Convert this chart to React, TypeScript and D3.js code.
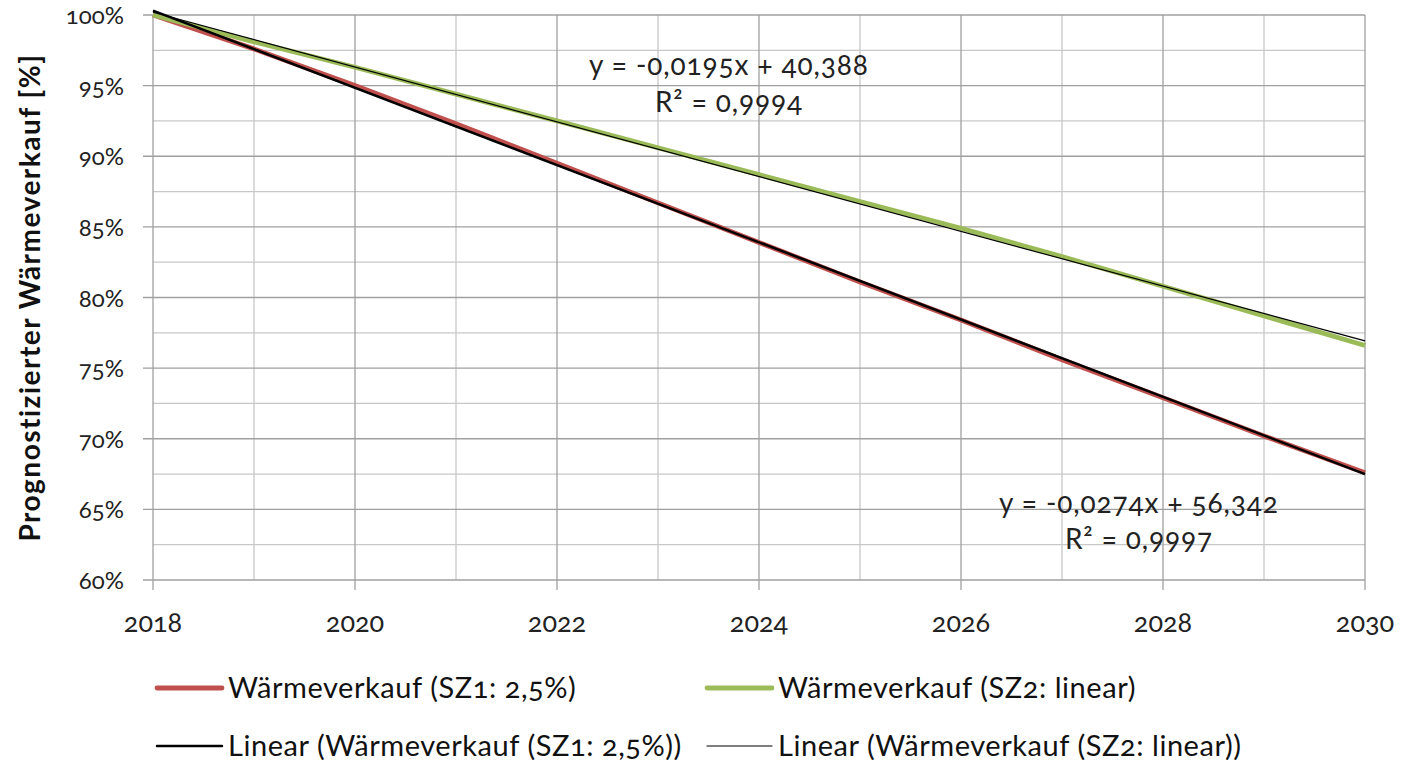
import React from "react";
import * as d3 from "d3";

const years = [2018, 2019, 2020, 2021, 2022, 2023, 2024, 2025, 2026, 2027, 2028, 2029, 2030];
const sz1 = [100, 97.6, 95.0, 92.3, 89.5, 86.7, 83.9, 81.1, 78.4, 75.6, 72.9, 70.2, 67.6];
const sz2 = [100, 98.1, 96.3, 94.4, 92.5, 90.6, 88.7, 86.8, 84.9, 82.9, 80.8, 78.7, 76.6];
const yTicks = [60, 65, 70, 75, 80, 85, 90, 95, 100];
const yMinor = [62.5, 67.5, 72.5, 77.5, 82.5, 87.5, 92.5, 97.5];
const xTicks = [2018, 2020, 2022, 2024, 2026, 2028, 2030];
const xMinor = [2019, 2021, 2023, 2025, 2027, 2029];
const eq1 = ["y = -0,0274x + 56,342", "R² = 0,9997"];
const eq2 = ["y = -0,0195x + 40,388", "R² = 0,9994"];
const legendLabels = [
  "Wärmeverkauf (SZ1: 2,5%)",
  "Wärmeverkauf (SZ2: linear)",
  "Linear (Wärmeverkauf (SZ1: 2,5%))",
  "Linear (Wärmeverkauf (SZ2: linear))",
];

const RED = "#C0504D";
const GREEN = "#9BBB59";
const FONT = "Lato, 'Open Sans', sans-serif";

function linReg(xs: number[], ys: number[]) {
  const mx = d3.mean(xs)!;
  const my = d3.mean(ys)!;
  const num = d3.sum(xs.map((x, i) => (x - mx) * (ys[i] - my)));
  const den = d3.sum(xs.map((x) => (x - mx) * (x - mx)));
  const b = num / den;
  const a = my - b * mx;
  return (x: number) => a + b * x;
}

export default function App() {
  const W = 1402;
  const H = 763;
  const left = 153;
  const right = 1365;
  const top = 15;
  const bottom = 580;

  const x = d3.scaleLinear().domain([2018, 2030]).range([left, right]);
  const y = d3.scaleLinear().domain([60, 100]).range([bottom, top]);

  const line = d3
    .line<[number, number]>()
    .x((d) => x(d[0]))
    .y((d) => y(d[1]));

  const f1 = linReg(years, sz1);
  const f2 = linReg(years, sz2);
  const ext = [2018, 2030];

  const s1 = years.map((yr, i) => [yr, sz1[i]] as [number, number]);
  const s2 = years.map((yr, i) => [yr, sz2[i]] as [number, number]);
  const t1 = ext.map((yr) => [yr, f1(yr)] as [number, number]);
  const t2 = ext.map((yr) => [yr, f2(yr)] as [number, number]);

  const legendItems = [
    { label: legendLabels[0], color: RED, w: 4.8, lx: 157, ly: 688 },
    { label: legendLabels[1], color: GREEN, w: 4.8, lx: 707, ly: 688 },
    { label: legendLabels[2], color: "#000", w: 2.5, lx: 157, ly: 746 },
    { label: legendLabels[3], color: "#000", w: 1.2, lx: 707, ly: 746 },
  ];

  const onum = { fontVariantNumeric: "oldstyle-nums" } as React.CSSProperties;

  return (
    <svg
      width={W}
      height={H}
      style={{ position: "absolute", left: 0, top: 0, background: "#fff" }}
      fontFamily={FONT}
    >
      {/* minor grid */}
      {yMinor.map((v) => (
        <line key={"ym" + v} x1={left} x2={right} y1={y(v)} y2={y(v)} stroke="#c8c8c8" strokeWidth={1.3} />
      ))}
      {xMinor.map((v) => (
        <line key={"xm" + v} x1={x(v)} x2={x(v)} y1={top} y2={bottom} stroke="#c8c8c8" strokeWidth={1.3} />
      ))}
      {/* major grid */}
      {yTicks.map((v) => (
        <line key={"y" + v} x1={left - 10} x2={right} y1={y(v)} y2={y(v)} stroke="#a0a0a0" strokeWidth={1.3} />
      ))}
      {xTicks.map((v) => (
        <line key={"x" + v} x1={x(v)} x2={x(v)} y1={top} y2={bottom + 10} stroke="#a0a0a0" strokeWidth={1.3} />
      ))}

      {/* tick labels */}
      {yTicks.map((v) => (
        <text key={"yl" + v} x={124} y={y(v) + 9} textAnchor="end" fontSize={24} fill="#222" style={onum}>
          {v}%
        </text>
      ))}
      {xTicks.map((v) => (
        <text key={"xl" + v} x={x(v)} y={632} textAnchor="middle" fontSize={27} fill="#222" style={onum}>
          {v}
        </text>
      ))}

      {/* axis title */}
      <text
        transform={`translate(40, ${(top + bottom) / 2}) rotate(-90)`}
        textAnchor="middle"
        fontSize={28}
        fontWeight="bold"
        letterSpacing={1.5}
        fill="#111"
      >
        Prognostizierter Wärmeverkauf [%]
      </text>

      {/* series */}
      <path d={line(s1)!} fill="none" stroke={RED} strokeWidth={4.8} strokeLinejoin="round" />
      <path d={line(s2)!} fill="none" stroke={GREEN} strokeWidth={4.8} strokeLinejoin="round" />
      <path d={line(t1)!} fill="none" stroke="#000" strokeWidth={2.5} />
      <path d={line(t2)!} fill="none" stroke="#000" strokeWidth={1.2} />

      {/* equations */}
      {eq2.map((t, i) => (
        <text key={"e2" + i} x={729} y={75 + i * 37} textAnchor="middle" fontSize={28} letterSpacing={0.9} fill="#222" style={onum}>
          {t}
        </text>
      ))}
      {eq1.map((t, i) => (
        <text key={"e1" + i} x={1139} y={513 + i * 36} textAnchor="middle" fontSize={28} letterSpacing={0.9} fill="#222" style={onum}>
          {t}
        </text>
      ))}

      {/* legend */}
      {legendItems.map((it) => (
        <g key={it.label}>
          <line x1={it.lx} x2={it.lx + 65} y1={it.ly} y2={it.ly} stroke={it.color} strokeWidth={it.w} strokeLinecap="round" />
          <text x={it.lx + 71} y={it.ly + 10} fontSize={29} letterSpacing={0.55} fill="#111" style={onum}>
            {it.label}
          </text>
        </g>
      ))}
    </svg>
  );
}
